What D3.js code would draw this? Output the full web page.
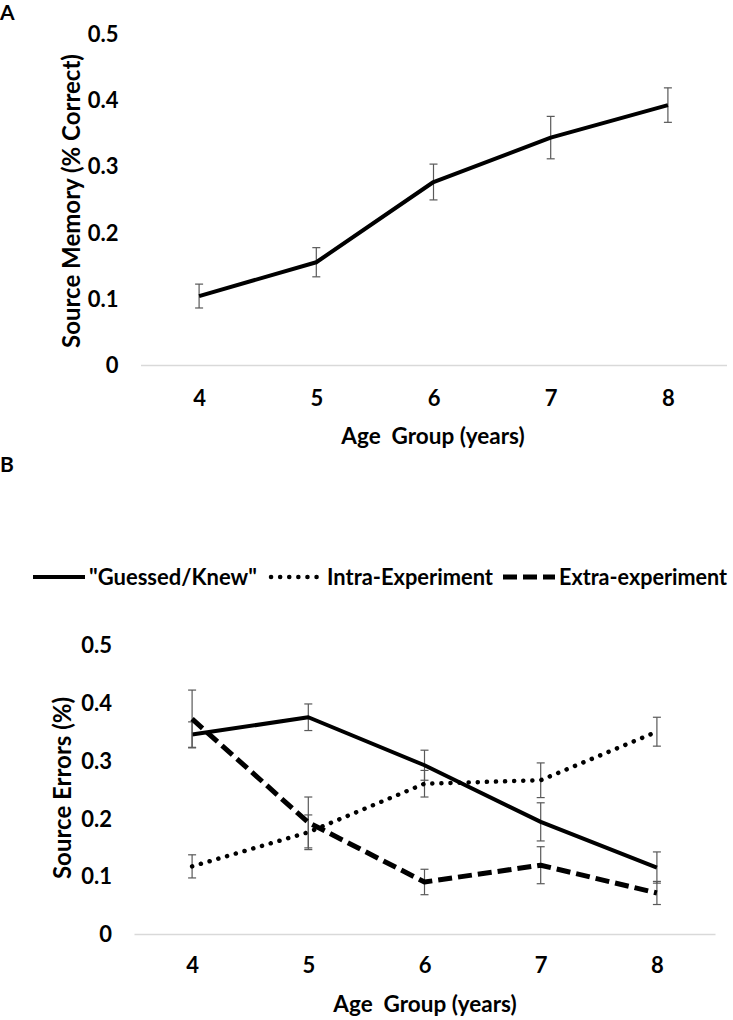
<!DOCTYPE html>
<html>
<head>
<meta charset="utf-8">
<script src="https://cdn.jsdelivr.net/npm/d3@7"></script>
<style>
  html, body { margin: 0; padding: 0; background: #fff; }
  svg text { font-family: Lato, "Open Sans", sans-serif; font-weight: bold; fill: #000; }
</style>
</head>
<body>
<svg id="chart" width="733" height="1020"></svg>
<script>
// ---- data ----
const ages = ["4", "5", "6", "7", "8"];
const yTicks = [0, 0.1, 0.2, 0.3, 0.4, 0.5];

// Panel A: source memory
const memoryMean = [0.104, 0.155, 0.276, 0.343, 0.392];
const memoryErr  = [0.018, 0.022, 0.027, 0.032, 0.026];

// Panel B: source errors
const seriesNames = ["\"Guessed/Knew\"", "Intra-Experiment", "Extra-experiment"];
const guessedMean = [0.345, 0.375, 0.292, 0.194, 0.115];
const guessedErr  = [0.022, 0.023, 0.026, 0.033, 0.027];
const intraMean   = [0.117, 0.176, 0.260, 0.266, 0.350];
const intraErr    = [0.020, 0.030, 0.023, 0.030, 0.025];
const extraMean   = [0.372, 0.193, 0.090, 0.119, 0.071];
const extraErr    = [0.050, 0.044, 0.022, 0.032, 0.020];

const svg = d3.select("#chart");
const fmt = d => d === 0 ? "0" : d3.format(".1f")(d);

const styles = [
  {width: 4,   dash: null,     cap: "butt"},
  {width: 4.5, dash: "0.1 9",  cap: "round"},
  {width: 5,   dash: "14 6",   cap: "butt"}
];

function panel(cfg) {
  const x = d3.scalePoint().domain(ages).range([cfg.x0, cfg.x1]).padding(0.5);
  const y = d3.scaleLinear().domain([0, 0.5]).range([cfg.yZero, cfg.yTop]);
  const g = svg.append("g");

  // x axis (zero line)
  const xa = g.append("g").attr("transform", `translate(0,${cfg.yZero})`)
    .call(d3.axisBottom(x).tickSize(0).tickSizeOuter(0));
  xa.select(".domain").attr("stroke", "#d9d9d9").attr("stroke-width", 1.5);
  xa.selectAll("text").attr("y", cfg.xTickDy).attr("dy", null)
    .style("font-size", "22px").style("font-family", "Lato, sans-serif").style("font-weight", "bold");

  // y axis
  const ya = g.append("g").attr("transform", `translate(${cfg.x0},0)`)
    .call(d3.axisLeft(y).tickValues(yTicks).tickFormat(fmt).tickSize(0).tickPadding(22));
  ya.select(".domain").remove();
  ya.selectAll("text").attr("dy", "0.35em")
    .style("font-size", "22px").style("font-family", "Lato, sans-serif").style("font-weight", "bold");

  // titles
  g.append("text").attr("x", cfg.xTitleX).attr("y", cfg.xTitleY)
    .attr("text-anchor", "middle").style("font-size", "22.5px").style("white-space", "pre")
    .text("Age  Group (years)");
  g.append("text").attr("transform", `translate(${cfg.yTitleX},${cfg.yTitleY}) rotate(-90)`)
    .attr("text-anchor", "middle").attr("dy", "0.35em").style("font-size", "24px")
    .text(cfg.yTitle);

  g.append("text").attr("x", 0).attr("y", cfg.letterY).style("font-size", "21px").text(cfg.letter);

  // series
  cfg.series.forEach((s, si) => {
    const st = styles[s.style];
    const pts = ages.map((a, i) => ({a, v: s.mean[i], e: s.err[i]}));
    // error bars
    const eb = g.append("g").attr("stroke", "#595959").attr("stroke-width", 1.2);
    pts.forEach(p => {
      const cx = x(p.a);
      eb.append("line").attr("x1", cx).attr("x2", cx).attr("y1", y(p.v + p.e)).attr("y2", y(p.v - p.e));
      eb.append("line").attr("x1", cx - 4).attr("x2", cx + 4).attr("y1", y(p.v + p.e)).attr("y2", y(p.v + p.e));
      eb.append("line").attr("x1", cx - 4).attr("x2", cx + 4).attr("y1", y(p.v - p.e)).attr("y2", y(p.v - p.e));
    });
    g.append("path").datum(pts)
      .attr("fill", "none").attr("stroke", "#000")
      .attr("stroke-width", st.width)
      .attr("stroke-linecap", st.cap).attr("stroke-linejoin", "round")
      .attr("stroke-dasharray", st.dash)
      .attr("d", d3.line().x(p => x(p.a)).y(p => y(p.v)));
  });
}

panel({
  x0: 140.5, x1: 726.5, yZero: 365, yTop: 33.5, xTickDy: 41,
  xTitleX: 433, xTitleY: 444, yTitleX: 72, yTitleY: 201,
  yTitle: "Source Memory (% Correct)", letter: "A", letterY: 20,
  series: [{mean: memoryMean, err: memoryErr, style: 0}]
});

panel({
  x0: 134, x1: 715, yZero: 934, yTop: 645, xTickDy: 39,
  xTitleX: 425, xTitleY: 1012, yTitleX: 63, yTitleY: 788,
  yTitle: "Source Errors (%)", letter: "B", letterY: 472,
  series: [
    {mean: guessedMean, err: guessedErr, style: 0},
    {mean: intraMean, err: intraErr, style: 1},
    {mean: extraMean, err: extraErr, style: 2}
  ]
});

// legend (item slots laid out across the width)
const lg = svg.append("g");
const ly = 577;
const slots = [[33, 172], [271, 166], [503, 168]];  // [sample start, text width]
seriesNames.forEach((name, i) => {
  const st = styles[i];
  const sx = slots[i][0];
  lg.append("line").attr("x1", sx).attr("x2", sx + 52).attr("y1", ly).attr("y2", ly)
    .attr("stroke", "#000").attr("stroke-width", st.width)
    .attr("stroke-linecap", st.cap).attr("stroke-dasharray", st.dash);
  const t = lg.append("text").attr("x", sx + 56).attr("y", ly + 8).style("font-size", "22px").text(name);
  const w = t.node().getComputedTextLength();
  if (w > slots[i][1]) t.attr("textLength", slots[i][1]).attr("lengthAdjust", "spacingAndGlyphs");
});
</script>
</body>
</html>
